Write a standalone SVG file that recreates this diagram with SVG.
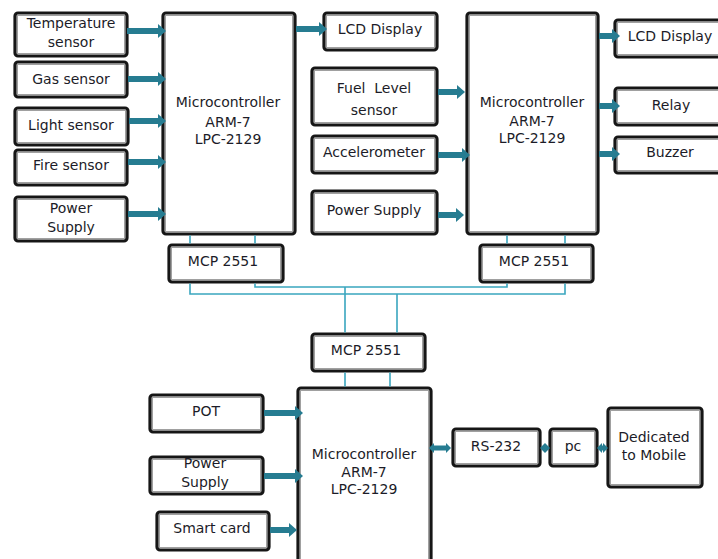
<svg xmlns="http://www.w3.org/2000/svg" width="718" height="559" viewBox="0 0 718 559">
<style>
.b{fill:#fff;stroke:#161616;stroke-width:3.2}
.i{fill:none;stroke:#a0a0a0;stroke-width:1}
text{font-family:"DejaVu Sans","Noto Sans",sans-serif;font-size:14px;fill:#1c1c28;text-anchor:middle}
.ar{stroke:#267c91;stroke-width:6;fill:none}
.da{stroke:#267c91;stroke-width:5;fill:none}
.bus{stroke:#3aa6bf;stroke-width:1.6;fill:none}
</style>
<defs>
<marker id="h" markerUnits="userSpaceOnUse" markerWidth="9" markerHeight="14" refX="1" refY="7" orient="auto"><path d="M0,0 L8,7 L0,14 z" fill="#267c91"/></marker>
<marker id="s" markerUnits="userSpaceOnUse" markerWidth="6" markerHeight="10" refX="1" refY="5" orient="auto-start-reverse"><path d="M0,0 L5,5 L0,10 z" fill="#267c91"/></marker>
</defs>
<rect width="718" height="559" fill="#fff"/>
<g id="temp"><rect class="b" x="15" y="13" width="112" height="43" rx="3"/><rect class="i" x="17.5" y="15.5" width="107" height="38"/><text x="71" y="28">Temperature</text><text x="71" y="47">sensor</text></g>
<g id="gas"><rect class="b" x="15" y="62" width="112" height="35" rx="3"/><rect class="i" x="17.5" y="64.5" width="107" height="30"/><text x="71" y="84">Gas sensor</text></g>
<g id="light"><rect class="b" x="15" y="108" width="113" height="37" rx="3"/><rect class="i" x="17.5" y="110.5" width="108" height="32"/><text x="71" y="130">Light sensor</text></g>
<g id="fire"><rect class="b" x="15" y="150" width="112" height="35" rx="3"/><rect class="i" x="17.5" y="152.5" width="107" height="30"/><text x="71" y="170">Fire sensor</text></g>
<g id="power1"><rect class="b" x="15" y="197" width="112" height="44" rx="3"/><rect class="i" x="17.5" y="199.5" width="107" height="39"/><text x="71" y="213">Power</text><text x="71" y="232">Supply</text></g>
<g id="mcu1"><rect class="b" x="163" y="13" width="132" height="221" rx="3"/><rect class="i" x="165.5" y="15.5" width="127" height="216"/><text x="228" y="107">Microcontroller</text><text x="228" y="127">ARM-7</text><text x="228" y="144">LPC-2129</text></g>
<g id="lcd1"><rect class="b" x="324" y="13" width="113" height="37" rx="3"/><rect class="i" x="326.5" y="15.5" width="108" height="32"/><text x="380" y="34">LCD Display</text></g>
<g id="fuel"><rect class="b" x="312" y="68" width="125" height="57" rx="3"/><rect class="i" x="314.5" y="70.5" width="120" height="52"/><text x="374" y="93" xml:space="preserve">Fuel  Level</text><text x="374" y="115">sensor</text></g>
<g id="accel"><rect class="b" x="312" y="136" width="125" height="37" rx="3"/><rect class="i" x="314.5" y="138.5" width="120" height="32"/><text x="374" y="157">Accelerometer</text></g>
<g id="power2"><rect class="b" x="312" y="191" width="125" height="43" rx="3"/><rect class="i" x="314.5" y="193.5" width="120" height="38"/><text x="374" y="215">Power Supply</text></g>
<g id="mcu2"><rect class="b" x="467" y="13" width="131" height="221" rx="3"/><rect class="i" x="469.5" y="15.5" width="126" height="216"/><text x="532" y="107">Microcontroller</text><text x="532" y="126">ARM-7</text><text x="532" y="143">LPC-2129</text></g>
<g id="lcd2"><rect class="b" x="615" y="20" width="110" height="37" rx="3"/><rect class="i" x="617.5" y="22.5" width="105" height="32"/><text x="670" y="41">LCD Display</text></g>
<g id="relay"><rect class="b" x="615" y="88" width="110" height="37" rx="3"/><rect class="i" x="617.5" y="90.5" width="105" height="32"/><text x="671" y="110">Relay</text></g>
<g id="buzzer"><rect class="b" x="615" y="137" width="110" height="36" rx="3"/><rect class="i" x="617.5" y="139.5" width="105" height="31"/><text x="670" y="157">Buzzer</text></g>
<g id="mcp1"><rect class="b" x="169" y="245" width="114" height="37" rx="3"/><rect class="i" x="171.5" y="247.5" width="109" height="32"/><text x="223" y="266">MCP 2551</text></g>
<g id="mcp2"><rect class="b" x="480" y="245" width="113" height="37" rx="3"/><rect class="i" x="482.5" y="247.5" width="108" height="32"/><text x="534" y="266">MCP 2551</text></g>
<g id="mcp3"><rect class="b" x="312" y="334" width="113" height="37" rx="3"/><rect class="i" x="314.5" y="336.5" width="108" height="32"/><text x="366" y="355">MCP 2551</text></g>
<g id="mcu3"><rect class="b" x="298" y="388" width="133" height="185" rx="3"/><rect class="i" x="300.5" y="390.5" width="128" height="180"/><text x="364" y="459">Microcontroller</text><text x="364" y="477">ARM-7</text><text x="364" y="494">LPC-2129</text></g>
<g id="pot"><rect class="b" x="150" y="395" width="113" height="37" rx="3"/><rect class="i" x="152.5" y="397.5" width="108" height="32"/><text x="206" y="416">POT</text></g>
<g id="power3"><rect class="b" x="150" y="457" width="113" height="37" rx="3"/><rect class="i" x="152.5" y="459.5" width="108" height="32"/><text x="205" y="468">Power</text><text x="205" y="487">Supply</text></g>
<g id="smart"><rect class="b" x="157" y="512" width="112" height="38" rx="3"/><rect class="i" x="159.5" y="514.5" width="107" height="33"/><text x="212" y="533">Smart card</text></g>
<g id="rs232"><rect class="b" x="453" y="429" width="87" height="37" rx="3"/><rect class="i" x="455.5" y="431.5" width="82" height="32"/><text x="496" y="451">RS-232</text></g>
<g id="pc"><rect class="b" x="550" y="429" width="47" height="37" rx="3"/><rect class="i" x="552.5" y="431.5" width="42" height="32"/><text x="573" y="451">pc</text></g>
<g id="mobile"><rect class="b" x="608" y="408" width="94" height="79" rx="3"/><rect class="i" x="610.5" y="410.5" width="89" height="74"/><text x="654" y="442">Dedicated</text><text x="654" y="460">to Mobile</text></g>
<g id="connectors">
<line class="ar" x1="127" y1="31" x2="159" y2="31" marker-end="url(#h)"/>
<line class="ar" x1="128" y1="79" x2="159" y2="79" marker-end="url(#h)"/>
<line class="ar" x1="129" y1="121" x2="159" y2="121" marker-end="url(#h)"/>
<line class="ar" x1="128" y1="162" x2="159" y2="162" marker-end="url(#h)"/>
<line class="ar" x1="128" y1="214" x2="159" y2="214" marker-end="url(#h)"/>
<line class="ar" x1="296" y1="29" x2="320" y2="29" marker-end="url(#h)"/>
<line class="ar" x1="438" y1="92" x2="458" y2="92" marker-end="url(#h)"/>
<line class="ar" x1="438" y1="155" x2="463" y2="155" marker-end="url(#h)"/>
<line class="ar" x1="438" y1="215" x2="457" y2="215" marker-end="url(#h)"/>
<line class="ar" x1="599" y1="36" x2="613" y2="36" marker-end="url(#h)"/>
<line class="ar" x1="599" y1="106" x2="613" y2="106" marker-end="url(#h)"/>
<line class="ar" x1="599" y1="154" x2="613" y2="154" marker-end="url(#h)"/>
<line class="ar" x1="264" y1="413" x2="296" y2="413" marker-end="url(#h)"/>
<line class="ar" x1="264" y1="476" x2="296" y2="476" marker-end="url(#h)"/>
<line class="ar" x1="270" y1="530" x2="290" y2="530" marker-end="url(#h)"/>
<line class="da" x1="433" y1="448" x2="447" y2="448" marker-start="url(#s)" marker-end="url(#s)"/>
<line class="da" x1="544" y1="448" x2="546" y2="448" marker-start="url(#s)" marker-end="url(#s)"/>
<line class="da" x1="601" y1="448" x2="604" y2="448" marker-start="url(#s)" marker-end="url(#s)"/>
<path class="bus" d="M190,235.6 V243.4 M255,235.6 V243.4 M507,235.6 V243.4 M565,235.6 V243.4"/>
<path class="bus" d="M190,283.6 V294 H565 V283.6"/>
<path class="bus" d="M255,283.6 V287 H507 V283.6"/>
<path class="bus" d="M345,287 V332.4 M397,294 V332.4"/>
<path class="bus" d="M345,372.6 V386.4 M390,372.6 V386.4"/>
</g>
</svg>
